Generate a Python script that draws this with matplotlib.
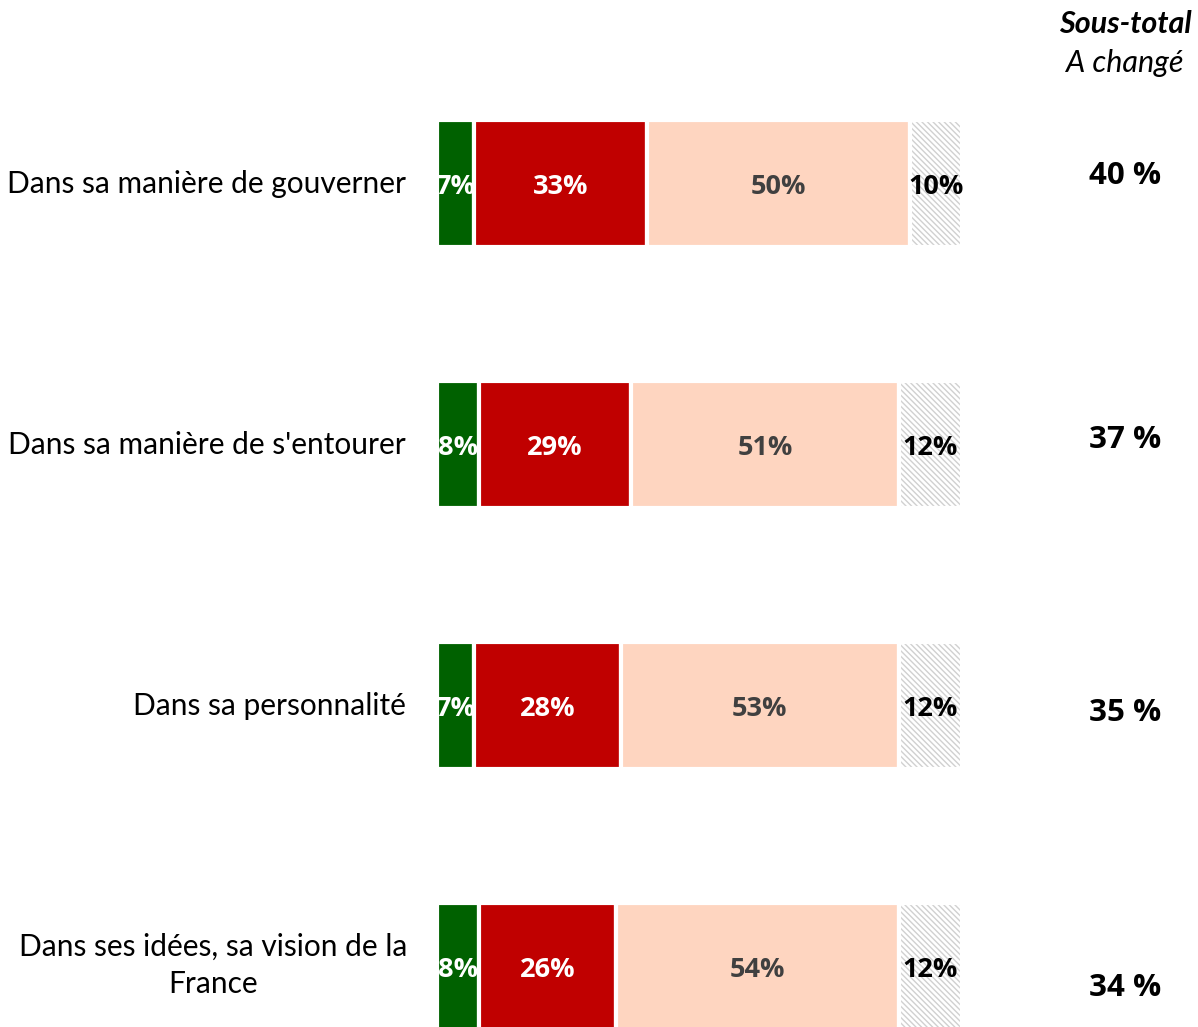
import numpy as np
import matplotlib
matplotlib.use("Agg")
import matplotlib.pyplot as plt

plt.rcParams["font.family"] = ["Lato", "DejaVu Sans"]
plt.rcParams["hatch.linewidth"] = 1.0
BOLD = ["Open Sans", "DejaVu Sans"]

categories = [
    "Dans sa manière de gouverner",
    "Dans sa manière de s'entourer",
    "Dans sa personnalité",
    "Dans ses idées, sa vision de la\nFrance",
]
green_vals = [7, 8, 7, 8]
red_vals = [33, 29, 28, 26]
peach_vals = [50, 51, 53, 54]
nsp_vals = [10, 12, 12, 12]
subtotals = ["40 %", "37 %", "35 %", "34 %"]

W, H = 1198, 1027
fig = plt.figure(figsize=(W / 100, H / 100), dpi=100)
axis = fig.add_axes([437 / W, 0, 525 / W, 1])
axis.set_xlim(0, 100)
pitch = 261.0
top = 184.0
axis.set_ylim((H - top) / pitch, -top / pitch)
axis.axis("off")

ypos = np.arange(len(categories))
height = 127 / pitch
series = [
    (green_vals, "#006100", "white", None),
    (red_vals, "#c00000", "white", None),
    (peach_vals, "#fed5c0", "#404040", None),
    (nsp_vals, "white", "black", "\\\\\\\\\\\\"),
]
left = np.zeros(len(categories))
for vals, color, tcolor, hatch in series:
    vals = np.array(vals, dtype=float)
    if hatch:
        # hatch drawn in light grey, then white outline on top
        axis.barh(ypos, vals, left=left, height=height, color=color,
                  edgecolor="#d0d0d0", linewidth=0, hatch=hatch)
        axis.barh(ypos, vals, left=left, height=height, fill=False,
                  edgecolor="white", linewidth=3)
    else:
        axis.barh(ypos, vals, left=left, height=height, color=color,
                  edgecolor="white", linewidth=3)
    for y, l, v in zip(ypos, left, vals):
        axis.text(
            l + v / 2,
            y + 3 / pitch,
            f"{int(v)}%",
            ha="center",
            va="center",
            color=tcolor,
            fontsize=19.5,
            fontweight="bold",
            family=BOLD,
        )
    left += vals

for y, cat in zip(ypos, categories):
    if "\n" in cat:
        fig.text(213 / W, 1 - (top + y * pitch - 2) / H, cat, ha="center",
                 va="center", fontsize=21.5, linespacing=1.4)
    else:
        fig.text(406 / W, 1 - (top + y * pitch) / H, cat, ha="right",
                 va="center", fontsize=21.5)

total_y = [176, 440, 713, 988]
for ty, st in zip(total_y, subtotals):
    fig.text(1125 / W, 1 - ty / H, st, ha="center", va="center",
             fontsize=22.5, fontweight="bold", family=BOLD)

fig.text(1192 / W, 1 - 24 / H, "Sous-total", ha="right", va="center",
         fontsize=22, fontweight="bold", fontstyle="italic")
fig.text(1125 / W, 1 - 63 / H, "A changé", ha="center", va="center",
         fontsize=22, fontstyle="italic")

fig.savefig("out.png", dpi=100)
